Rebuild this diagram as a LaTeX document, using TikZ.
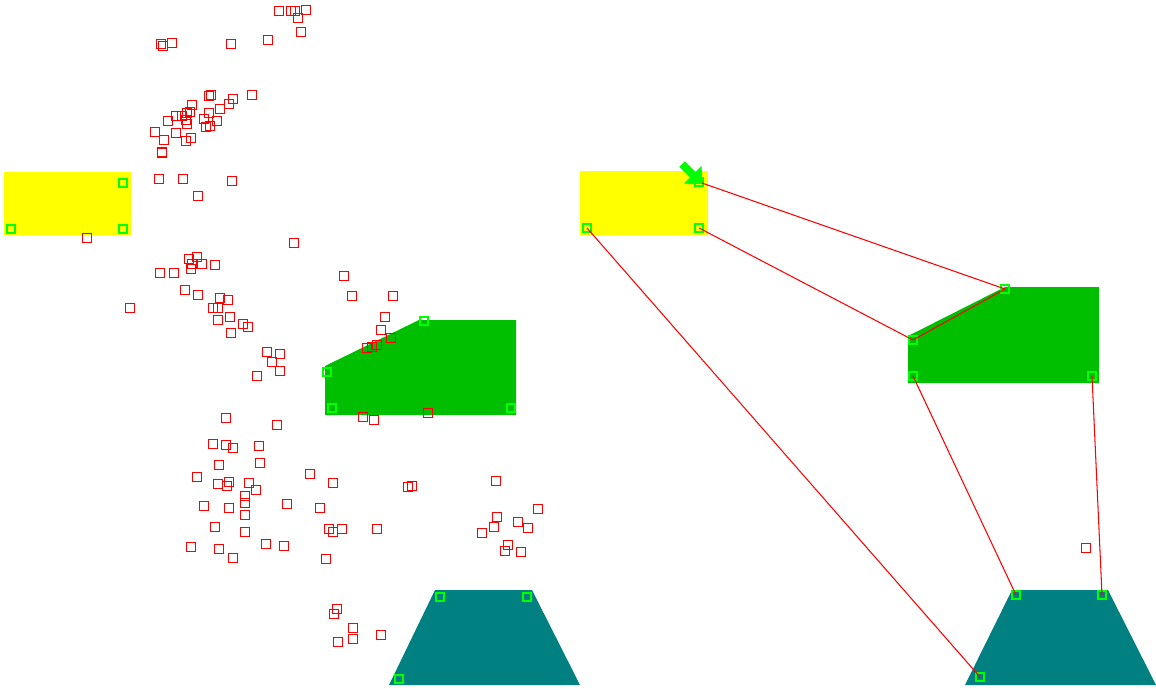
\documentclass[tikz,border=0pt]{standalone}
\usetikzlibrary{arrows.meta}
\definecolor{keyred}{RGB}{255,0,0}
\definecolor{lime}{RGB}{0,255,0}
\definecolor{plateyellow}{RGB}{255,255,0}
\definecolor{plategreen}{RGB}{0,191,0}
\definecolor{plateteal}{RGB}{0,128,128}
\begin{document}
\begin{tikzpicture}[
  x=0.02cm, y=-0.02cm,
  kp/.style={draw=keyred, line width=0.65pt, minimum size=4.8pt, inner sep=0pt, rectangle},
  corner/.style={draw=lime, line width=0.9pt, minimum size=4.8pt, inner sep=0pt, rectangle},
  match/.style={draw=keyred, line width=0.6pt},
  pointer/.style={draw=lime, line width=4.5pt, -{Triangle[width=14pt,length=7.5pt]}}
]
\useasboundingbox (0,0) rectangle (1156,689);
% 左图:目标块
\fill[plateyellow] (4,172) rectangle (131,235);
\fill[plategreen] (325,366) -- (419,320) -- (516,320) -- (516,415) -- (325,415) -- cycle;
\fill[plateteal] (435,590) -- (532,590) -- (580,685) -- (389,685) -- cycle;
% 右图:目标块
\fill[plateyellow] (580,171) rectangle (708,235);
\fill[plategreen] (908,336) -- (1005,287) -- (1099,287) -- (1099,383) -- (908,383) -- cycle;
\fill[plateteal] (1012,590) -- (1108,590) -- (1156,685) -- (965,685) -- cycle;
% 左图:特征点
\foreach \x/\y [count=\i] in {
  279/11, 291/11, 295/11, 306/10, 298/18, 301/32, 161/44, 163/46, 172/43, 231/44,
  268/40, 252/95, 211/95, 209/96, 233/99, 229/104, 220/109, 192/105, 190/112, 176/116,
  182/116, 187/113, 186/120, 187/124, 168/121, 204/119, 209/113, 217/121, 206/127, 210/126,
  155/132, 176/133, 164/140, 186/141, 191/138, 162/152, 162/153, 159/179, 183/179, 232/181,
  198/196, 87/238, 294/243, 189/259, 197/257, 192/264, 191/269, 202/264, 215/265, 160/273,
  174/273, 344/276, 185/290, 198/295, 220/298, 228/300, 352/296, 393/296, 130/308, 213/308,
  218/308, 230/317, 218/320, 385/317, 243/324, 248/327, 231/333, 381/330, 391/338, 377/345,
  372/347, 367/348, 267/352, 280/354, 272/362, 280/371, 257/376, 363/417, 374/420, 226/418,
  277/425, 428/413, 213/444, 226/445, 233/448, 259/446, 219/465, 260/463, 197/477, 310/474,
  333/483, 218/484, 229/482, 227/486, 249/483, 256/490, 245/496, 245/503, 408/487, 412/486,
  496/481, 204/506, 229/508, 287/504, 320/508, 245/515, 538/509, 497/517, 494/527, 518/522,
  528/528, 482/533, 215/527, 245/532, 329/529, 333/532, 342/529, 377/529, 191/547, 219/549,
  233/558, 266/544, 284/546, 326/559, 508/545, 505/551, 521/552, 337/609, 334/614, 353/628,
  353/639, 381/635, 338/642}
  \node[kp] (kp\i) at (\x,\y) {};
% 右图:特征点
\node[kp] (kpr) at (1086,548) {};
% 角点
\foreach \nm/\x/\y in {
  ly1/123/183, ly2/11/229, ly3/123/229,
  lg1/424/321, lg2/327/372, lg3/332/408, lg4/511/408,
  lt1/440/597, lt2/527/597, lt3/399/679,
  ry1/699/182, ry2/587/228, ry3/699/228,
  rg1/1005/289, rg2/913/340, rg3/913/376, rg4/1092/376,
  rt1/1016/595, rt2/1102/595, rt3/980/677}
  \node[corner] (\nm) at (\x,\y) {};
% 匹配连线
\draw[match] (ry1.center) -- (rg1.center);
\draw[match] (ry3.center) -- (rg2.center);
\draw[match] (rg2.center) -- (rg1.center);
\draw[match] (ry2.center) -- (rt3.center);
\draw[match] (rg3.center) -- (rt1.center);
\draw[match] (rg4.center) -- (rt2.center);
% 光标箭头
\coordinate (tail) at (682,164);
\coordinate (tip) at (702,184);
\draw[pointer] (tail) -- (tip);
\end{tikzpicture}
\end{document}
